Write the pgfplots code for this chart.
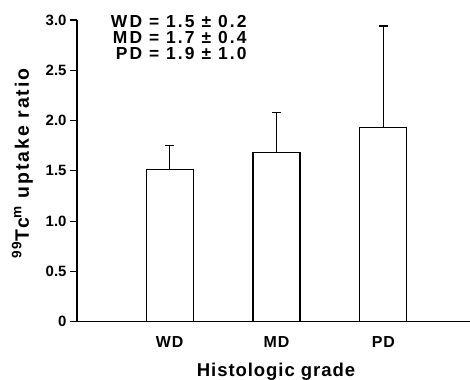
\documentclass[border=0pt]{standalone}
\usepackage{pgfplots}
\pgfplotsset{compat=1.18}
\usepackage{fontspec}
\setmainfont{Liberation Sans}
\newfontfamily\annfont[LetterSpace=12]{Liberation Sans}
\newfontfamily\labfont[LetterSpace=5]{Liberation Sans}
\newfontfamily\ylabfont[LetterSpace=10]{Liberation Sans}
\newfontfamily\tickfont{Liberation Sans}
\begin{document}
\begin{tikzpicture}
\begin{axis}[
  scale only axis, width=393bp, height=301.7bp,
  xmin=0.134, xmax=3.81, ymin=0, ymax=3,
  clip=false,
  axis x line=bottom, axis y line=left,
  axis line style={-, line width=1.2pt},
  xtick={1,2,3}, xticklabels={WD,MD,PD},
  major x tick style={draw=none},
  ytick={0,0.5,1,1.5,2,2.5,3}, yticklabels={0,0.5,1.0,1.5,2.0,2.5,3.0},
  tick align=outside, major tick length=7bp,
  y tick style={line width=1.1pt, black},
  yticklabel style={font={\tickfont\bfseries\fontsize{15}{15}\selectfont}},
  xticklabel style={font={\labfont\bfseries\fontsize{16}{16}\selectfont}, yshift=-4bp},
  ylabel={\textsuperscript{99}Tc\textsuperscript{m} uptake ratio},
  ylabel style={at={(rel axis cs:-0.1387,0.5247)}, anchor=center, font={\ylabfont\bfseries\fontsize{19.5}{19.5}\selectfont}},
  xlabel={Histologic grade},
  xlabel style={at={(rel axis cs:0.5,0)}, anchor=base, yshift=-55bp, xshift=2.5bp, font={\labfont\bfseries\fontsize{18.6}{18.6}\selectfont}},
  ybar, bar width=47bp,
]
\addplot[ybar, fill=white, draw=black, line width=1.1pt,
  error bars/.cd, y dir=plus, y explicit,
  error bar style={line width=1.2pt},
  error mark options={rotate=90, mark size=4.5bp, line width=1.2pt}]
  coordinates {(1,1.51) +- (0,0.24) (2,1.68) +- (0,0.40) (3,1.93) +- (0,1.01)};
\node[anchor=north east, inner sep=0, align=right, font={\annfont\bfseries\fontsize{17.5}{16.3}\selectfont}]
  at (axis cs:1.721,3.05) {WD = 1.5 ± 0.2\\MD = 1.7 ± 0.4\\PD = 1.9 ± 1.0};
\end{axis}
\pgfresetboundingbox
\path (current axis.south west) ++(-77bp,-58.3bp) rectangle ++(470bp,380bp);
\end{tikzpicture}
\end{document}
